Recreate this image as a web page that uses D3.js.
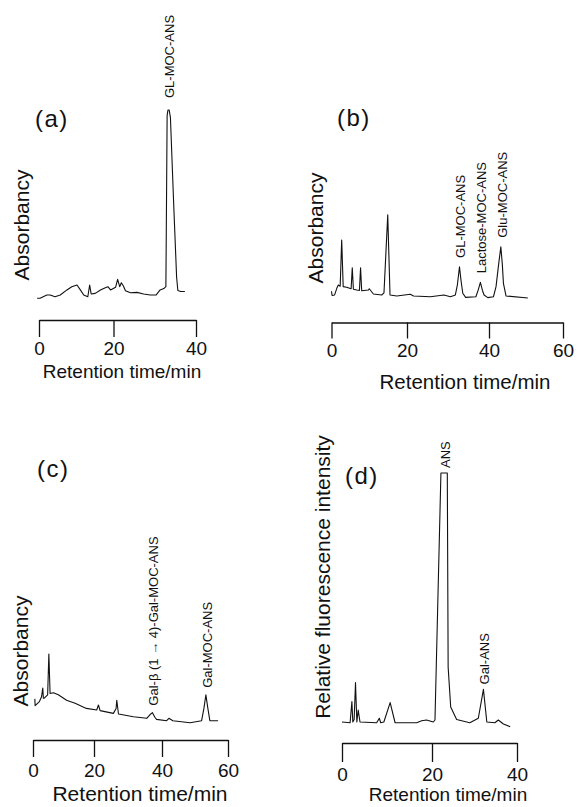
<!DOCTYPE html>
<html lang="en">
<head>
  <meta charset="UTF-8" />
  <title>HPLC chromatograms (a)-(d)</title>
  <script src="https://d3js.org/d3.v7.min.js"></script>
  <style>
    body { margin: 0; padding: 0; background: #fff; }
    svg text { font-family: "Liberation Sans", Arial, Helvetica, sans-serif; fill: #111; }
    .trace { fill: none; stroke: #111; stroke-width: 1.1; stroke-linejoin: round; }
    .axis path, .axis line { stroke: #111; stroke-width: 1.3; }
  </style>
</head>
<body>
  <div id="chart"></div>

  <script>
    // ---- data: [retention time (min), signal (0-100 of panel)] ----
    const traceA = [
      [-0.5, 0.9], [0.3, 0.9], [2.1, 2.6], [3.0, 2.6], [4.3, 1.7], [5.7, 2.6], [7.5, 5.3],
      [8.8, 7.0], [10.2, 7.9], [11.1, 5.3], [12.0, 2.6], [13.1, 1.7], [13.6, 7.9], [14.0, 3.2],
      [15.1, 3.5], [16.5, 5.3], [17.8, 6.5], [18.5, 7.0], [19.2, 5.3], [20.5, 6.7], [21.0, 10.9],
      [21.5, 7.0], [21.9, 9.1], [22.4, 7.4], [22.9, 4.9], [24.1, 3.8], [25.7, 4.0], [27.3, 3.2],
      [28.9, 2.6], [30.3, 2.6], [31.3, 5.3], [32.2, 6.0], [32.7, 7.0], [33.0, 97], [33.2, 100],
      [33.5, 100], [33.8, 96], [34.6, 50], [35.3, 12], [35.6, 5.0], [36.3, 4.5], [37.3, 4.5]
    ];
    const traceB = [
      [0, 8], [0.15, 3], [0.8, 3.5], [1.4, 11.5], [1.8, 15.5], [2.3, 14], [2.7, 69], [3.1, 13.5],
      [4.0, 12.7], [5.2, 11], [5.5, 36], [5.8, 10.4], [6.7, 9.5], [7.4, 9], [7.7, 36], [8.0, 8.7],
      [9.8, 9.5], [10.0, 11], [11.1, 4.8], [13.3, 3.6], [13.9, 6], [14.9, 99], [15.5, 3.6],
      [17.3, 2.4], [20.8, 4.4], [21.6, 2.4], [25.7, 1.5], [29.0, 3.6], [30.6, 1.5], [31.8, 3.6],
      [32.3, 16], [32.8, 37], [33.2, 20], [33.6, 5.6], [34.3, 0.8], [36.8, 1.5], [37.4, 10],
      [37.9, 18.7], [38.4, 9], [38.8, 3.6], [39.7, 0.4], [41.2, 1.5], [41.9, 13.5], [42.6, 40],
      [43.2, 61], [43.6, 40], [43.9, 17.5], [44.6, 2.4], [50.5, 0]
    ];
    const traceC = [
      [0.6, 34], [0.7, 24], [2.1, 30], [2.8, 37], [3.2, 50], [3.4, 35], [3.7, 35], [4.8, 40],
      [5.2, 100], [5.6, 42], [6.7, 43], [8.3, 40], [11.0, 32], [13.8, 27.5], [17.5, 20],
      [20.8, 17.6], [21.3, 25], [21.8, 16.7], [25.7, 12.7], [26.5, 20], [26.7, 32], [27.2, 11.8],
      [31.6, 7.8], [35.5, 5.4], [36.5, 11], [37.2, 13.7], [37.9, 7], [38.4, 3.9], [41.4, 1.9],
      [42.1, 5.4], [43.3, 1.9], [48.5, -1], [52.0, 1.9], [52.7, 20], [53.3, 40], [53.9, 20],
      [54.5, 1.9], [57.0, 1.9]
    ];
    const traceD = [
      [0, 0], [1.8, -0.3], [2.2, 8.2], [2.4, 0], [2.7, 1], [3.0, 15.8], [3.3, 0], [3.6, 4.8],
      [4.0, 0], [7.7, -0.3], [8.3, 1.5], [8.6, -0.3], [9.3, 0], [10.7, 7.8], [11.8, -0.3],
      [16.6, -0.3], [17.7, 0.5], [18.8, 0.8], [20.3, 0], [20.7, 0.8], [22.1, 100], [23.6, 100],
      [23.8, 22], [24.4, 6], [25.8, 1], [28.9, -0.3], [30.9, 1.5], [32.1, 13.1], [32.9, 0],
      [34.8, -0.3], [35.6, 0.8], [36.8, -0.8], [38.4, -1.9]
    ];

    // tick labels of each time axis
    const ticksA = [0, 20, 40];
    const ticksB = [0, 20, 40, 60];
    const ticksC = [0, 20, 40, 60];
    const ticksD = [0, 20, 40];

    // peak names at their retention time / apex value
    const labelsA = [{ name: "GL-MOC-ANS", t: 33.3, v: 100 }];
    const labelsB = [
      { name: "GL-MOC-ANS", t: 32.8, v: 37 },
      { name: "Lactose-MOC-ANS", t: 37.9, v: 18.7 },
      { name: "Glu-MOC-ANS", t: 43.2, v: 61 }
    ];
    const labelsC = [
      { name: "Gal-β (1 → 4)-Gal-MOC-ANS", t: 37.2, v: 13.7 },
      { name: "Gal-MOC-ANS", t: 53.3, v: 40 }
    ];
    const labelsD = [
      { name: "ANS", t: 22.85, v: 100 },
      { name: "Gal-ANS", t: 32.1, v: 13.1 }
    ];

    // ---- layout of the four panels (pixels) ----
    const panels = [
      { tag: "(a)", trace: traceA, ticks: ticksA, labels: labelsA, yTitle: "Absorbancy",
        xRange: [39, 113.5, 196], yRange: [300, 110], axisY: 320, tickLen: 17, tickPad: 5,
        tagX: 35, tagY: 127, yTitleX: 29, yTitleY: 225, xTitleX: 122, xTitleY: 378, xTitleSize: 19,
        gap: 12 },
      { tag: "(b)", trace: traceB, ticks: ticksB, labels: labelsB, yTitle: "Absorbancy",
        xRange: [331.5, 407, 489, 563], yRange: [298, 214], axisY: 322.5, tickLen: 16, tickPad: 5,
        tagX: 337, tagY: 126, yTitleX: 323, yTitleY: 228, xTitleX: 465, xTitleY: 389, xTitleSize: 20.5,
        gap: 9 },
      { tag: "(c)", trace: traceC, ticks: ticksC, labels: labelsC, yTitle: "Absorbancy",
        xRange: [33, 94, 162, 228], yRange: [722, 654], axisY: 740, tickLen: 17, tickPad: 7,
        tagX: 37, tagY: 477, yTitleX: 28, yTitleY: 651, xTitleX: 140, xTitleY: 801, xTitleSize: 21,
        gap: 7 },
      { tag: "(d)", trace: traceD, ticks: ticksD, labels: labelsD, yTitle: "Relative fluorescence intensity",
        xRange: [342, 432, 517], yRange: [722, 473], axisY: 743, tickLen: 19, tickPad: 6,
        tagX: 345, tagY: 484, yTitleX: 330, yTitleY: 577, xTitleX: 448, xTitleY: 801, xTitleSize: 19,
        gap: 5 }
    ];

    const width = 581;
    const height = 807;

    const svg = d3.select("#chart")
      .append("svg")
      .attr("width", width)
      .attr("height", height);

    panels.forEach(p => {
      const g = svg.append("g");

      // calibrated time axis (ticks in the original are not evenly spaced)
      const x = d3.scaleLinear().domain(p.ticks).range(p.xRange);
      const y = d3.scaleLinear().domain([0, 100]).range(p.yRange);

      const line = d3.line()
        .x(d => x(d[0]))
        .y(d => y(d[1]));

      g.append("path")
        .datum(p.trace)
        .attr("class", "trace")
        .attr("d", line);

      // time axis, ticks pointing down
      const axis = g.append("g")
        .attr("class", "axis")
        .attr("transform", `translate(0,${p.axisY})`)
        .call(d3.axisBottom(x)
          .tickValues(p.ticks)
          .tickFormat(d3.format("d"))
          .tickSize(p.tickLen)
          .tickSizeOuter(0)
          .tickPadding(p.tickPad));
      axis.selectAll("text")
        .attr("font-family", null)
        .style("font-size", "19px");
      axis.attr("font-family", null);

      g.append("text")
        .attr("x", p.xTitleX)
        .attr("y", p.xTitleY)
        .attr("text-anchor", "middle")
        .style("font-size", p.xTitleSize + "px")
        .text("Retention time/min");

      g.append("text")
        .attr("transform", `translate(${p.yTitleX},${p.yTitleY}) rotate(-90)`)
        .attr("text-anchor", "middle")
        .style("font-size", "21px")
        .text(p.yTitle);

      g.append("text")
        .attr("x", p.tagX)
        .attr("y", p.tagY)
        .style("font-size", "24px")
        .style("letter-spacing", "1.5px")
        .text(p.tag);

      // rotated peak names standing above each peak
      g.selectAll(".peak-label")
        .data(p.labels)
        .enter()
        .append("text")
        .attr("class", "peak-label")
        .attr("transform", d => `translate(${x(d.t) + 1},${y(d.v) - p.gap}) rotate(-90)`)
        .attr("dy", "0.36em")
        .style("font-size", "13px")
        .text(d => d.name);
    });
  </script>
</body>
</html>
